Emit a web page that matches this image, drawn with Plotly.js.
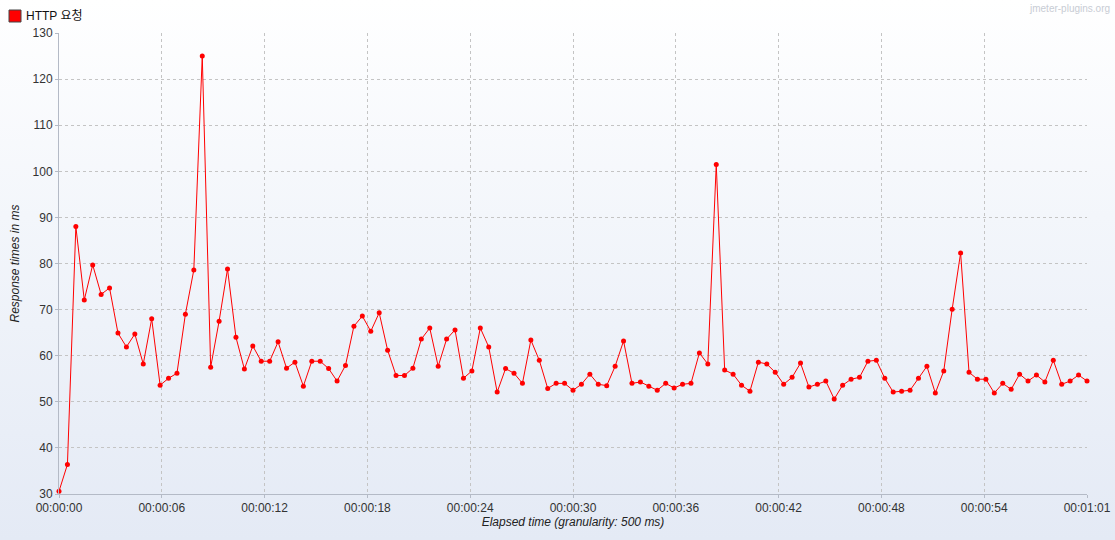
<!DOCTYPE html>
<html>
<head>
<meta charset="utf-8">
<script src="https://cdn.plot.ly/plotly-3.0.1.min.js"></script>
<style>
html,body{margin:0;padding:0;width:1115px;height:540px;overflow:hidden;
background:linear-gradient(to bottom,#ffffff 0%,#f3f6fb 40%,#e4eaf5 100%);}
#chart{width:1115px;height:540px;}
</style>
</head>
<body>
<div id="chart"></div>
<script>
// Elapsed time in seconds (granularity 500 ms)
const seriesName = "HTTP 요청";
const responseTimes = [
  30.6, 36.4, 88.0, 72.1, 79.7, 73.3, 74.7, 64.9, 61.9, 64.7,
  58.2, 68.0, 53.6, 55.1, 56.2, 69.0, 78.6, 125.0, 57.5, 67.5,
  78.8, 64.0, 57.1, 62.1, 58.8, 58.8, 63.0, 57.3, 58.6, 53.4,
  58.8, 58.8, 57.2, 54.5, 57.9, 66.4, 68.6, 65.3, 69.3, 61.2,
  55.7, 55.7, 57.3, 63.6, 66.0, 57.7, 63.6, 65.6, 55.1, 56.7,
  66.0, 61.9, 52.1, 57.2, 56.2, 54.0, 63.4, 59.0, 52.9, 54.0,
  54.0, 52.5, 53.8, 56.0, 53.8, 53.5, 57.7, 63.2, 54.0, 54.3,
  53.4, 52.5, 54.0, 53.0, 53.8, 54.0, 60.6, 58.2, 101.5, 56.9,
  56.0, 53.6, 52.3, 58.6, 58.2, 56.4, 53.8, 55.3, 58.4, 53.2,
  53.8, 54.5, 50.6, 53.6, 54.9, 55.3, 58.8, 59.0, 55.1, 52.1,
  52.3, 52.5, 55.1, 57.7, 51.9, 56.7, 70.1, 82.3, 56.4, 54.9,
  54.9, 51.9, 54.0, 52.7, 56.0, 54.5, 55.8, 54.3, 59.0, 53.8,
  54.5, 55.8, 54.5
];
const elapsedSeconds = [
  0, 0.5, 1, 1.5, 2, 2.5, 3, 3.5, 4, 4.5,
  5, 5.5, 6, 6.5, 7, 7.5, 8, 8.5, 9, 9.5,
  10, 10.5, 11, 11.5, 12, 12.5, 13, 13.5, 14, 14.5,
  15, 15.5, 16, 16.5, 17, 17.5, 18, 18.5, 19, 19.5,
  20, 20.5, 21, 21.5, 22, 22.5, 23, 23.5, 24, 24.5,
  25, 25.5, 26, 26.5, 27, 27.5, 28, 28.5, 29, 29.5,
  30, 30.5, 31, 31.5, 32, 32.5, 33, 33.5, 34, 34.5,
  35, 35.5, 36, 36.5, 37, 37.5, 38, 38.5, 39, 39.5,
  40, 40.5, 41, 41.5, 42, 42.5, 43, 43.5, 44, 44.5,
  45, 45.5, 46, 46.5, 47, 47.5, 48, 48.5, 49, 49.5,
  50, 50.5, 51, 51.5, 52, 52.5, 53, 53.5, 54, 54.5,
  55, 55.5, 56, 56.5, 57, 57.5, 58, 58.5, 59, 59.5,
  60, 60.5, 61
];
const xTickVals = [0, 6.1, 12.2, 18.3, 24.4, 30.5, 36.6, 42.7, 48.8, 54.9, 61];
const xTickText = ["00:00:00","00:00:06","00:00:12","00:00:18","00:00:24","00:00:30",
                   "00:00:36","00:00:42","00:00:48","00:00:54","00:01:01"];
const yTickVals = [30, 40, 50, 60, 70, 80, 90, 100, 110, 120, 130];

const FONT = "Liberation Sans, Arial, Noto Sans CJK KR, sans-serif";

const traces = [
  {
    x: elapsedSeconds, y: responseTimes, type: "scatter", mode: "lines+markers",
    name: seriesName, showlegend: false, cliponaxis: false,
    line: {color: "#ff0000", width: 1},
    marker: {color: "#ff0000", size: 5}
  }
];

const gridCommon = {
  showgrid: true, gridcolor: "#c4c4c4", griddash: "3px,3px", gridwidth: 1,
  showline: true, linecolor: "#b4bac6", linewidth: 1,
  ticks: "outside", ticklen: 3, tickcolor: "#b4bac6", automargin: false,
  zeroline: false, tickfont: {family: FONT, size: 12, color: "#333333"}
};

const layout = {
  width: 1115, height: 540,
  paper_bgcolor: "rgba(0,0,0,0)", plot_bgcolor: "rgba(0,0,0,0)",
  margin: {l: 59, r: 28, t: 33, b: 46},
  font: {family: FONT, size: 12, color: "#333333"},
  showlegend: false,
  xaxis: Object.assign({}, gridCommon, {
    range: [0, 61], tickmode: "array", tickvals: xTickVals, ticktext: xTickText,
    title: {text: "<i>Elapsed time (granularity: 500 ms)</i>", standoff: 2,
            font: {family: FONT, size: 12, color: "#222222"}}
  }),
  yaxis: Object.assign({}, gridCommon, {
    range: [30, 130], tickmode: "array", tickvals: yTickVals,
    title: {text: "<i>Response times in ms</i>", standoff: 10,
            font: {family: FONT, size: 12, color: "#222222"}}
  }),
  shapes: [
    {type: "rect", xref: "paper", yref: "paper", xsizemode: "pixel", ysizemode: "pixel",
     xanchor: 0, yanchor: 1, x0: -50, x1: -38, y0: 11, y1: 23,
     fillcolor: "#ff0000", line: {color: "#444444", width: 1}}
  ],
  annotations: [
    {xref: "paper", yref: "paper", x: -35/1028, y: (494-16)/461, xanchor: "left", yanchor: "middle",
     text: seriesName, showarrow: false,
     font: {family: FONT, size: 12, color: "#111111"}},
    {xref: "paper", yref: "paper", x: 1 + 25/1028, y: (494-8)/461, xanchor: "right", yanchor: "middle",
     text: "jmeter-plugins.org", showarrow: false,
     font: {family: FONT, size: 10, color: "#c8ccd4"}}
  ]
};

Plotly.newPlot("chart", traces, layout, {displayModeBar: false, staticPlot: true});
</script>
</body>
</html>
